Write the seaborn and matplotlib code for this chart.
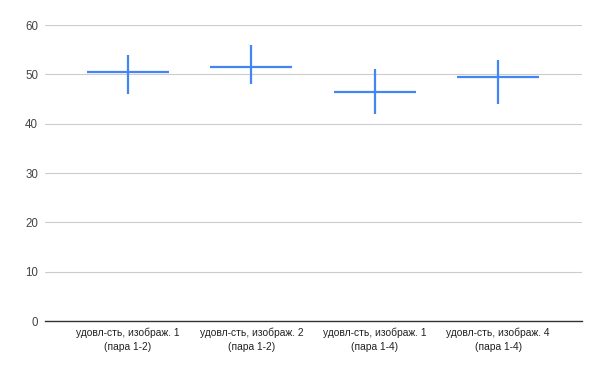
import matplotlib
matplotlib.use("Agg")
import matplotlib.pyplot as plt
import seaborn as sns
import numpy as np
import pandas as pd

categories = ["удовл-сть, изображ. 1\n(пара 1-2)",
              "удовл-сть, изображ. 2\n(пара 1-2)",
              "удовл-сть, изображ. 1\n(пара 1-4)",
              "удовл-сть, изображ. 4\n(пара 1-4)"]
means = [50.5, 51.5, 46.5, 49.5]
lows = [46, 48, 42, 44]
highs = [54, 56, 51, 53]
yticks = [0, 10, 20, 30, 40, 50, 60]

sns.set_theme(style="white")
plt.rcParams['font.family'] = ['Liberation Sans', 'DejaVu Sans']

df = pd.DataFrame({"cat": categories, "mean": means, "low": lows, "high": highs})

fig = plt.figure(figsize=(6, 3.71), dpi=100)
ax = fig.add_axes([45/600, 1-321/371, (582-45)/600, (321-25)/371])

x = np.arange(len(df))
ax.errorbar(x, df["mean"], xerr=0.333,
            yerr=[df["mean"] - df["low"], df["high"] - df["mean"]],
            fmt='none', ecolor="#4285F4", elinewidth=1.6, capsize=0, zorder=3)

ax.set_xlim(-0.673, 3.68)
ax.set_ylim(0, 60)
ax.set_yticks(yticks)
ax.set_yticklabels([str(t) for t in yticks])
ax.set_xticks(x)
ax.set_xticklabels(df["cat"], fontsize=7.4, color="#222222", linespacing=1.4)
ax.tick_params(axis='y', labelsize=8.3, colors="#444444", length=0, pad=5)
ax.tick_params(axis='x', length=0, pad=5)
ax.grid(axis='y', color="#cccccc", linewidth=0.8)
ax.grid(axis='x', visible=False)
for s in ["top", "right", "left"]:
    ax.spines[s].set_visible(False)
ax.spines["bottom"].set_color("#333333")
ax.spines["bottom"].set_linewidth(1.0)
ax.set_xlabel("")
ax.set_ylabel("")

fig.savefig("out.png", dpi=100, facecolor="white")
